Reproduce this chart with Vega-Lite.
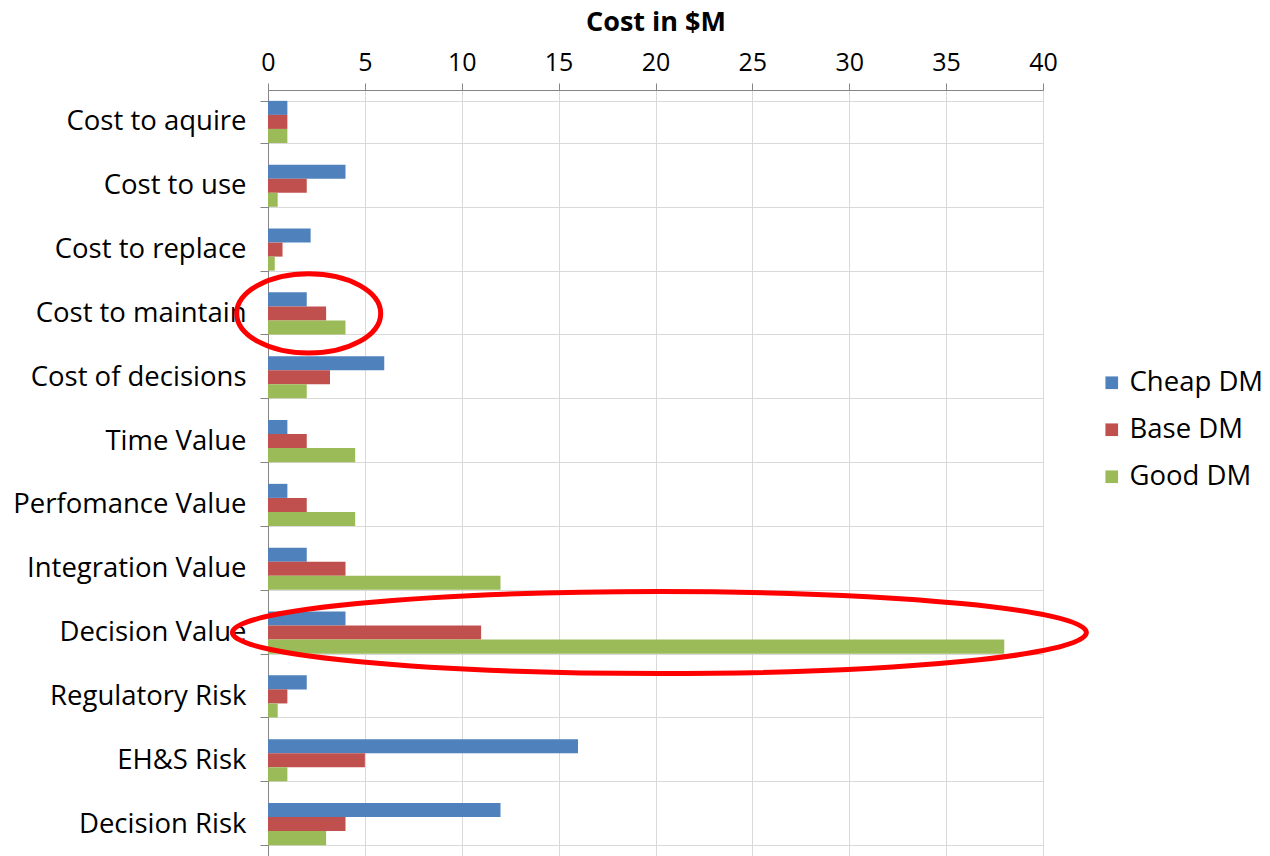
{
  "$schema": "https://vega.github.io/schema/vega-lite/v6.json",
  "width": 775,
  "height": 766,
  "autosize": {"type": "none"},
  "padding": {"left": 268, "top": 90, "right": 227, "bottom": 0},
  "background": "white",
  "config": {"font": "Open Sans", "view": {"stroke": null}},
  "layer": [
    {
      "data": {"values": [
        {"category": "Cost to aquire", "series": "Cheap DM", "value": 1},
        {"category": "Cost to aquire", "series": "Base DM", "value": 1},
        {"category": "Cost to aquire", "series": "Good DM", "value": 1},
        {"category": "Cost to use", "series": "Cheap DM", "value": 4},
        {"category": "Cost to use", "series": "Base DM", "value": 2},
        {"category": "Cost to use", "series": "Good DM", "value": 0.5},
        {"category": "Cost to replace", "series": "Cheap DM", "value": 2.2},
        {"category": "Cost to replace", "series": "Base DM", "value": 0.75},
        {"category": "Cost to replace", "series": "Good DM", "value": 0.35},
        {"category": "Cost to maintain", "series": "Cheap DM", "value": 2},
        {"category": "Cost to maintain", "series": "Base DM", "value": 3},
        {"category": "Cost to maintain", "series": "Good DM", "value": 4},
        {"category": "Cost of decisions", "series": "Cheap DM", "value": 6},
        {"category": "Cost of decisions", "series": "Base DM", "value": 3.2},
        {"category": "Cost of decisions", "series": "Good DM", "value": 2},
        {"category": "Time Value", "series": "Cheap DM", "value": 1},
        {"category": "Time Value", "series": "Base DM", "value": 2},
        {"category": "Time Value", "series": "Good DM", "value": 4.5},
        {"category": "Perfomance Value", "series": "Cheap DM", "value": 1},
        {"category": "Perfomance Value", "series": "Base DM", "value": 2},
        {"category": "Perfomance Value", "series": "Good DM", "value": 4.5},
        {"category": "Integration Value", "series": "Cheap DM", "value": 2},
        {"category": "Integration Value", "series": "Base DM", "value": 4},
        {"category": "Integration Value", "series": "Good DM", "value": 12},
        {"category": "Decision Value", "series": "Cheap DM", "value": 4},
        {"category": "Decision Value", "series": "Base DM", "value": 11},
        {"category": "Decision Value", "series": "Good DM", "value": 38},
        {"category": "Regulatory Risk", "series": "Cheap DM", "value": 2},
        {"category": "Regulatory Risk", "series": "Base DM", "value": 1},
        {"category": "Regulatory Risk", "series": "Good DM", "value": 0.5},
        {"category": "EH&S Risk", "series": "Cheap DM", "value": 16},
        {"category": "EH&S Risk", "series": "Base DM", "value": 5},
        {"category": "EH&S Risk", "series": "Good DM", "value": 1},
        {"category": "Decision Risk", "series": "Cheap DM", "value": 12},
        {"category": "Decision Risk", "series": "Base DM", "value": 4},
        {"category": "Decision Risk", "series": "Good DM", "value": 3}
      ]},
      "mark": {"type": "bar"},
      "encoding": {
        "y": {
          "field": "category", "type": "nominal",
          "sort": ["Cost to aquire", "Cost to use", "Cost to replace", "Cost to maintain", "Cost of decisions", "Time Value", "Perfomance Value", "Integration Value", "Decision Value", "Regulatory Risk", "EH&S Risk", "Decision Risk"],
          "scale": {
            "domain": ["Cost to aquire", "Cost to use", "Cost to replace", "Cost to maintain", "Cost of decisions", "Time Value", "Perfomance Value", "Integration Value", "Decision Value", "Regulatory Risk", "EH&S Risk", "Decision Risk"],
            "paddingInner": 0.34, "paddingOuter": 0.17
          },
          "axis": {
            "title": null, "tickBand": "extent", "grid": true, "gridColor": "#d9d9d9",
            "domainColor": "#868686", "tickColor": "#868686", "tickSize": 8,
            "labelFontSize": 27.5, "labelColor": "black", "labelPadding": 14, "labelLimit": 400
          }
        },
        "yOffset": {
          "field": "series", "type": "nominal",
          "sort": ["Cheap DM", "Base DM", "Good DM"],
          "scale": {"paddingInner": 0, "paddingOuter": 0}
        },
        "x": {
          "field": "value", "type": "quantitative",
          "scale": {"domain": [0, 40], "nice": false},
          "axis": {
            "orient": "top", "values": [0, 5, 10, 15, 20, 25, 30, 35, 40],
            "grid": true, "gridColor": "#d9d9d9", "domainColor": "#868686", "tickColor": "#868686",
            "tickSize": 7, "labelFontSize": 25, "labelPadding": 8, "labelColor": "black", "labelFlush": false,
            "title": "Cost in $M", "titleFontSize": 27, "titleFontWeight": "bold", "titleColor": "black", "titlePadding": 14
          }
        },
        "color": {
          "field": "series", "type": "nominal",
          "sort": ["Cheap DM", "Base DM", "Good DM"],
          "scale": {"domain": ["Cheap DM", "Base DM", "Good DM"], "range": ["#4F81BD", "#C0504D", "#9BBB59"]},
          "legend": {
            "title": null, "orient": "none", "legendX": 830, "legendY": 279,
            "labelFontSize": 27.5, "labelColor": "black", "symbolType": "square", "symbolSize": 160,
            "symbolStrokeWidth": 0, "rowPadding": 18, "labelOffset": 4
          }
        }
      }
    },
    {
      "data": {"values": [{"category": "Cost to maintain", "value": 2.1}]},
      "mark": {
        "type": "point",
        "shape": "M -1 0 C -1 -0.3038 -0.5523 -0.55 0 -0.55 C 0.5523 -0.55 1 -0.3038 1 0 C 1 0.3038 0.5523 0.55 0 0.55 C -0.5523 0.55 -1 0.3038 -1 0 Z",
        "size": 20736, "filled": false, "stroke": "#FF0000", "strokeWidth": 5, "opacity": 1
      },
      "encoding": {
        "y": {"field": "category", "type": "nominal", "sort": ["Cost to aquire", "Cost to use", "Cost to replace", "Cost to maintain", "Cost of decisions", "Time Value", "Perfomance Value", "Integration Value", "Decision Value", "Regulatory Risk", "EH&S Risk", "Decision Risk"]},
        "x": {"field": "value", "type": "quantitative"}
      }
    },
    {
      "data": {"values": [{"category": "Decision Value", "value": 20.2}]},
      "mark": {
        "type": "point",
        "shape": "M -1 0 C -1 -0.053 -0.5523 -0.096 0 -0.096 C 0.5523 -0.096 1 -0.053 1 0 C 1 0.053 0.5523 0.096 0 0.096 C -0.5523 0.096 -1 0.053 -1 0 Z",
        "size": 729316, "filled": false, "stroke": "#FF0000", "strokeWidth": 5, "opacity": 1
      },
      "encoding": {
        "y": {"field": "category", "type": "nominal", "sort": ["Cost to aquire", "Cost to use", "Cost to replace", "Cost to maintain", "Cost of decisions", "Time Value", "Perfomance Value", "Integration Value", "Decision Value", "Regulatory Risk", "EH&S Risk", "Decision Risk"]},
        "x": {"field": "value", "type": "quantitative"}
      }
    }
  ]
}
